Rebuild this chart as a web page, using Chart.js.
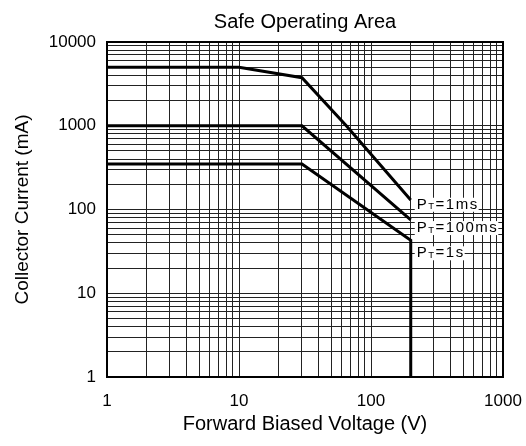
<!DOCTYPE html>
<html>
<head>
<meta charset="utf-8">
<script src="https://cdn.jsdelivr.net/npm/chart.js@4"></script>
<style>
  body { margin: 0; background: #fff; }
  #wrap { width: 526px; height: 446px; }
</style>
</head>
<body>
<div id="wrap"><canvas id="soaChart" width="526" height="446"></canvas></div>
<script>
// SOA curves (V, mA)
const volts1ms = [1, 10, 30, 65, 200];
const amps1ms = [5000, 5000, 3750, 1000, 130];
const volts100ms = [1, 30, 200];
const amps100ms = [1000, 1000, 75];
const volts1s = [1, 30, 200, 200];
const amps1s = [350, 350, 43, 1];

// curve labels and the current value they sit at (on the 200 V edge)
const pulseLabels = ['1ms', '100ms', '1s'];
const labelAmps = [114, 60, 30];

const xTickLabels = ['1', '10', '100', '1000'];
const yTickLabels = ['1', '10', '100', '1000', '10000'];

const ctx = document.getElementById('soaChart').getContext('2d');

function toPoints(xs, ys) {
    return xs.map((x, i) => ({ x: x, y: ys[i] }));
}

// log ticks at 1..9 of every decade, labels only on decades
function decadeTicks(scale) {
    const ticks = [];
    const top = Math.log10(scale.max);
    for (let e = 0; e < top; e++) {
        for (let m = 1; m < 10; m++) {
            ticks.push({ value: m * Math.pow(10, e) });
        }
    }
    ticks.push({ value: scale.max });
    scale.ticks = ticks;
}

function decadeLabel(labels) {
    return function (value) {
        const s = String(Math.round(value));
        return labels.includes(s) ? s : '';
    };
}

// frame around the plot + curve labels with white backing
const extrasPlugin = {
    id: 'extras',
    afterDatasetsDraw(chart) {
        const { ctx, chartArea, scales } = chart;
        ctx.save();
        ctx.strokeStyle = '#000';
        ctx.lineWidth = 2;
        ctx.strokeRect(chartArea.left, chartArea.top, chartArea.right - chartArea.left, chartArea.bottom - chartArea.top);

        const x0 = scales.x.getPixelForValue(200) + 6;
        ctx.textBaseline = 'middle';
        ctx.fillStyle = '#000';
        if ('letterSpacing' in ctx) ctx.letterSpacing = '1.5px';
        pulseLabels.forEach((lbl, i) => {
            const y = scales.y.getPixelForValue(labelAmps[i]);
            ctx.font = '15px Arial';
            const wP = ctx.measureText('P').width;
            const wRest = ctx.measureText('=' + lbl).width;
            ctx.font = '9.5px Arial';
            const wT = ctx.measureText('T').width;
            ctx.fillStyle = '#fff';
            ctx.fillRect(x0 - 2, y - 7, wP + wT + wRest + 2, 14);
            ctx.fillStyle = '#000';
            ctx.font = '15px Arial';
            ctx.fillText('P', x0, y);
            ctx.font = '9.5px Arial';
            ctx.fillText('T', x0 + wP, y + 2);
            ctx.font = '15px Arial';
            ctx.fillText('=' + lbl, x0 + wP + wT, y);
        });
        ctx.restore();
    }
};

const lineStyle = {
    borderColor: '#000',
    borderWidth: 3,
    pointRadius: 0,
    tension: 0,
    fill: false,
    clip: false
};

const soaChart = new Chart(ctx, {
    type: 'line',
    data: {
        datasets: [
            { label: 'PT=1ms', data: toPoints(volts1ms, amps1ms), ...lineStyle },
            { label: 'PT=100ms', data: toPoints(volts100ms, amps100ms), ...lineStyle },
            { label: 'PT=1s', data: toPoints(volts1s, amps1s), ...lineStyle }
        ]
    },
    options: {
        responsive: false,
        animation: false,
        layout: { padding: { left: 0, right: 23, top: 0, bottom: 0 } },
        plugins: {
            legend: { display: false },
            tooltip: { enabled: false },
            title: {
                display: true,
                text: 'Safe Operating Area',
                fullSize: false,
                color: '#000',
                font: { family: 'Arial', size: 20, weight: 'normal' },
                padding: { top: 10, bottom: 8 }
            }
        },
        scales: {
            x: {
                type: 'logarithmic',
                min: 1,
                max: 1000,
                afterBuildTicks: decadeTicks,
                afterFit: (s) => {
                    s.height = 69;
                    s.paddingLeft = 0;
                    s.paddingRight = 0;
                },
                ticks: {
                    autoSkip: false,
                    maxRotation: 0,
                    padding: 14,
                    color: '#000',
                    font: { family: 'Arial', size: 17 },
                    callback: decadeLabel(xTickLabels)
                },
                grid: { color: '#222', lineWidth: 1, drawTicks: false },
                border: { color: '#000', width: 2 },
                title: {
                    display: true,
                    text: 'Forward Biased Voltage (V)',
                    color: '#000',
                    font: { family: 'Arial', size: 20 },
                    padding: { top: 0, bottom: 10 }
                }
            },
            y: {
                type: 'logarithmic',
                min: 1,
                max: 10000,
                afterBuildTicks: decadeTicks,
                afterFit: (s) => { s.width = 107; },
                ticks: {
                    autoSkip: false,
                    padding: 11,
                    color: '#000',
                    font: { family: 'Arial', size: 17 },
                    callback: decadeLabel(yTickLabels)
                },
                grid: { color: '#222', lineWidth: 1, drawTicks: false },
                border: { color: '#000', width: 2 },
                title: {
                    display: true,
                    text: 'Collector Current (mA)',
                    color: '#000',
                    font: { family: 'Arial', size: 19 },
                    padding: { top: 11, bottom: 0 }
                }
            }
        }
    },
    plugins: [extrasPlugin]
});
</script>
</body>
</html>
